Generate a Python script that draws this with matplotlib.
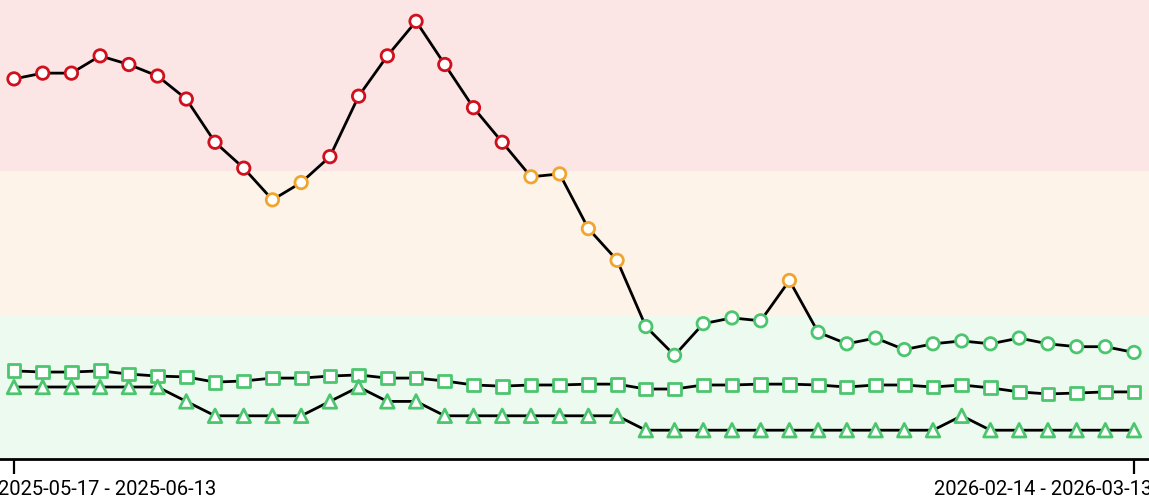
import matplotlib
matplotlib.use("Agg")
import matplotlib.pyplot as plt
import matplotlib.transforms as mtransforms
import numpy as np

plt.rcParams['font.family'] = ['Roboto', 'DejaVu Sans']

# Data
tick_labels = ["2025-05-17 - 2025-06-13", "2026-02-14 - 2026-03-13"]
circle_values = [132, 134, 134, 140, 137, 133, 125, 110, 101, 90,
                 96, 105, 126, 140, 152, 137, 122, 110, 98, 99,
                 80, 69, 46, 36, 47, 49, 48, 62, 44, 40,
                 42, 38, 40, 41, 40, 42, 40, 39, 39, 37]
square_values = [30.6, 30.2, 30.2, 30.6, 29.5, 28.8, 28.5, 26.7, 27.1, 28.1,
                 28.1, 28.8, 29.2, 28.1, 28.1, 27.1, 25.7, 25.3, 25.7, 25.7,
                 26.0, 26.0, 24.3, 24.3, 25.7, 25.7, 26.0, 26.0, 25.7, 25.0,
                 25.7, 25.7, 25.0, 25.7, 24.7, 23.3, 22.6, 22.9, 23.3, 23.3]
triangle_values = [25, 25, 25, 25, 25, 25, 20, 15, 15, 15,
                   15, 20, 25, 20, 20, 15, 15, 15, 15, 15,
                   15, 15, 10, 10, 10, 10, 10, 10, 10, 10,
                   10, 10, 10, 15, 10, 10, 10, 10, 10, 10]

# Bands (green / orange / red)
band_limits = [0, 50, 100, 159.4]
band_colors = ["#edfaef", "#fef3e8", "#fbe5e5"]
marker_colors = ["#4cc66e", "#efa52e", "#d0101c"]

x = np.arange(len(circle_values))

fig = plt.figure(figsize=(11.49, 4.98), dpi=100)
ax = fig.add_axes([0, 39 / 498, 1, 459 / 498])

for i in range(3):
    ax.axhspan(band_limits[i], band_limits[i + 1], color=band_colors[i], lw=0, zorder=0)


def band_color(v):
    if v < band_limits[1]:
        return marker_colors[0]
    if v < band_limits[2]:
        return marker_colors[1]
    return marker_colors[2]


ax.plot(x, circle_values, color="black", lw=2, zorder=2)
ax.scatter(x, circle_values, s=80, marker="o", facecolors="white",
           edgecolors=[band_color(v) for v in circle_values], linewidths=2, zorder=3)

ax.plot(x, square_values, color="black", lw=2, zorder=2)
ax.scatter(x, square_values, s=85, marker="s", facecolors="white",
           edgecolors=[band_color(v) for v in square_values], linewidths=2, zorder=3)

ax.plot(x, triangle_values, color="black", lw=2, zorder=2)
ax.scatter(x, triangle_values, s=95, marker="^", facecolors="white",
           edgecolors=[band_color(v) for v in triangle_values], linewidths=2, zorder=3)

ax.set_xlim(-0.487, 39.52)
ax.set_ylim(band_limits[0], band_limits[-1])

for side in ["left", "right", "top"]:
    ax.spines[side].set_visible(False)
ax.spines["bottom"].set_linewidth(2)
ax.spines["bottom"].set_color("black")
ax.set_yticks([])

ax.set_xticks([x[0], x[-1]])
ax.set_xticklabels(tick_labels, fontsize=14.5)
ax.tick_params(axis="x", length=11, width=1.6, pad=4, colors="black")

labels = ax.get_xticklabels()
labels[0].set_ha("left")
labels[0].set_transform(labels[0].get_transform() + mtransforms.ScaledTranslation(-0.16, 0, fig.dpi_scale_trans))
labels[1].set_ha("right")
labels[1].set_transform(labels[1].get_transform() + mtransforms.ScaledTranslation(0.18, 0, fig.dpi_scale_trans))

fig.savefig("out.png", dpi=100)
